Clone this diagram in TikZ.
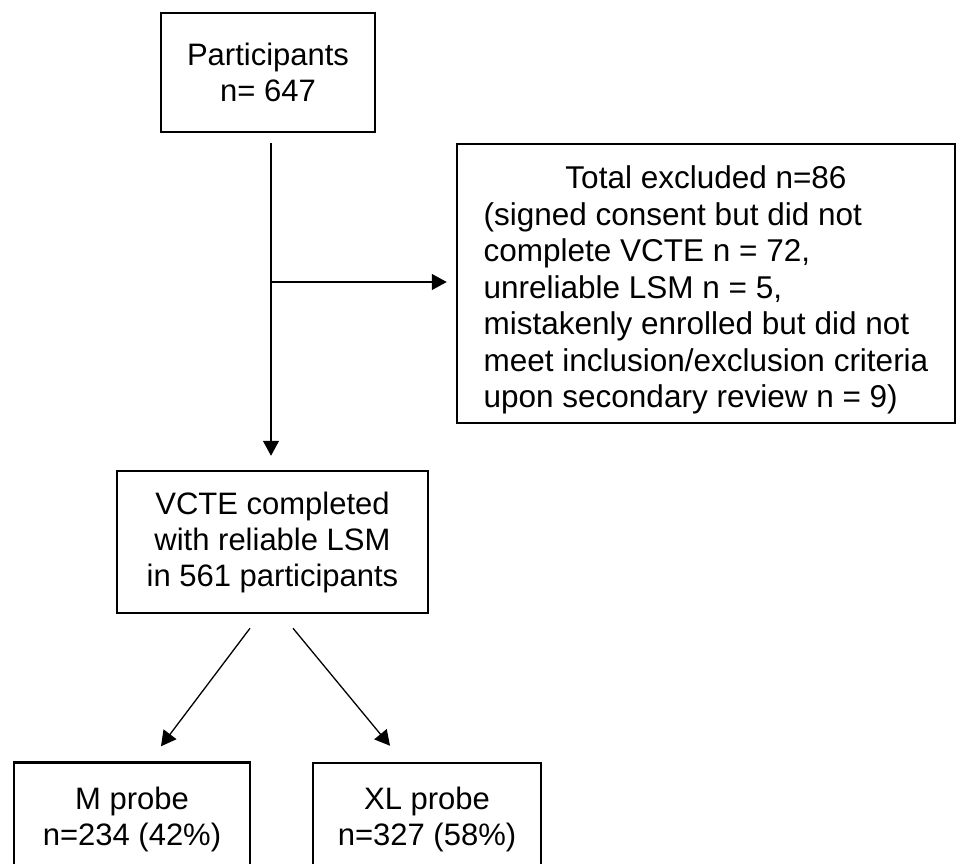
\documentclass[tikz,border=0pt]{standalone}
\usepackage{fontspec}
\setmainfont{Liberation Sans}
\usetikzlibrary{arrows.meta}
\begin{document}
\begin{tikzpicture}[x=1pt,y=1pt,
  box/.style={draw=black, line width=2.5pt, inner sep=0pt, align=center,
    font=\fontsize{31}{36}\selectfont},
  conn/.style={draw=black, line width=1.3pt, -{Triangle[length=15pt,width=16pt]}}]
\useasboundingbox (0,0) rectangle (960,-863);
\clip (0,0) rectangle (960,-863);
\fill[white] (0,0) rectangle (960,-863);

\node[box, minimum width=214pt, minimum height=119pt] (part) at (268,-72.5)
  {Participants\\n= 647};
\node[box, minimum width=498pt, minimum height=279pt] (excl) at (706,-283.5)
  {\fontsize{31.5}{36.5}\selectfont\begin{tabular}{@{}l@{}}
   \multicolumn{1}{@{}c@{}}{\rule{0pt}{40pt}Total excluded n=86}\\
   (signed consent but did not\\
   complete VCTE n = 72,\\
   unreliable LSM n = 5,\\
   mistakenly enrolled but did not\\
   meet inclusion/exclusion criteria\\
   upon secondary review n = 9)
  \end{tabular}};
\node[box, minimum width=311pt, minimum height=142pt] (vcte) at (272.5,-542)
  {VCTE completed\\with reliable LSM\\in 561 participants};
\node[box, minimum width=236pt, minimum height=113pt] (mprobe) at (132,-819)
  {M probe\\n=234 (42\%)};
\node[box, minimum width=228pt, minimum height=113pt] (xlprobe) at (427,-819.5)
  {XL probe\\n=327 (58\%)};

\coordinate (br) at (271,-282);
\draw[conn, shorten <=10pt, shorten >=14pt] (part.south -| br) -- (vcte.north -| br);
\draw[conn, shorten >=9pt] (br) -- (br -| excl.west);

\coordinate (d1s) at ([xshift=-22.5pt,yshift=-14pt]vcte.south);
\coordinate (d1e) at ([xshift=29pt,yshift=15pt]mprobe.north);
\coordinate (d2s) at ([xshift=20.5pt,yshift=-14pt]vcte.south);
\coordinate (d2e) at ([xshift=-37pt,yshift=16pt]xlprobe.north);
\draw[conn] (d1s) -- (d1e);
\draw[conn] (d2s) -- (d2e);
\end{tikzpicture}
\end{document}
